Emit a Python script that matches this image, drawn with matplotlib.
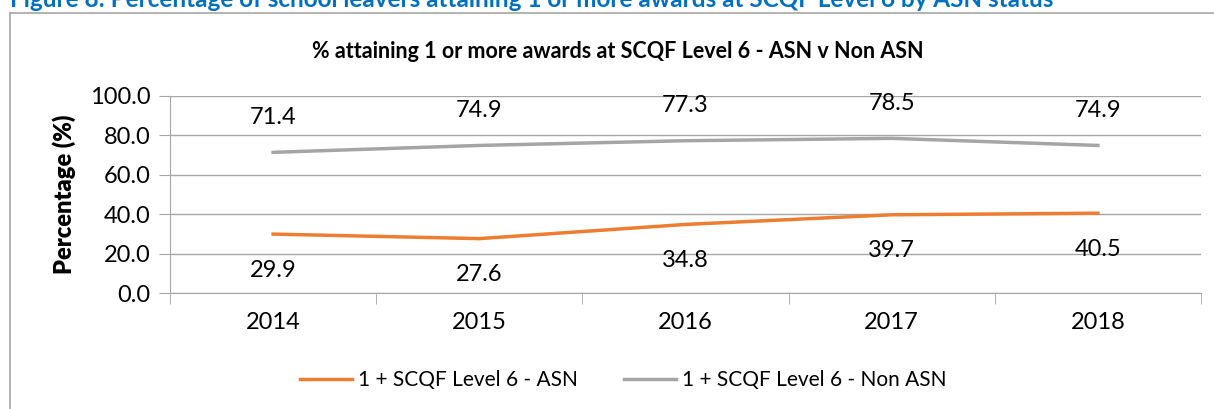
import matplotlib.pyplot as plt
from matplotlib.lines import Line2D

years = ['2014', '2015', '2016', '2017', '2018']
asn = [29.9, 27.6, 34.8, 39.7, 40.5]
non_asn = [71.4, 74.9, 77.3, 78.5, 74.9]

W, H = 1214, 409
plt.rcParams['font.family'] = ['Lato', 'DejaVu Sans']

fig = plt.figure(figsize=(W / 100, H / 100), dpi=100)

# outer chart frame (cut off right and bottom)
grey = '#A6A6A6'
fig.add_artist(Line2D([10 / W, 10 / W], [0, 1 - 13 / H], color=grey, lw=1.2))
fig.add_artist(Line2D([10 / W, 1], [1 - 13 / H, 1 - 13 / H], color=grey, lw=1.2))

# figure caption, partly cut at the top like the reference
fig.text(10 / W, 1 - 7 / H, 'Figure 8: Percentage of school leavers attaining 1 or more awards at SCQF Level 6 by ASN status',
         color='#0070C0', fontsize=17.5, fontweight='bold', va='baseline', ha='left')

ax = fig.add_axes([170 / W, 1 - 293 / H, (1201 - 170) / W, (293 - 96) / H])
x = list(range(len(years)))
ax.plot(x, asn, color='#ED7D31', lw=2.5, label='1 + SCQF Level 6 - ASN')
ax.plot(x, non_asn, color='#A5A5A5', lw=2.5, label='1 + SCQF Level 6 - Non ASN')

for i, v in enumerate(non_asn):
    ax.annotate(f'{v:.1f}', (i, v), xytext=(0, 35), textcoords='offset pixels',
                ha='center', va='center', fontsize=17)
for i, v in enumerate(asn):
    ax.annotate(f'{v:.1f}', (i, v), xytext=(0, -36), textcoords='offset pixels',
                ha='center', va='center', fontsize=17)

ax.set_xlim(-0.5, 4.5)
ax.set_ylim(0, 100)
ax.set_yticks(range(0, 101, 20))
ax.set_yticklabels([f'{t:.1f}' for t in range(0, 101, 20)], fontsize=17)
ax.set_xticks(x)
ax.set_xticklabels(years, fontsize=17)
ax.set_xticks([i - 0.5 for i in range(len(years) + 1)], minor=True)
ax.tick_params(axis='x', which='major', length=0, pad=14)
ax.tick_params(axis='x', which='minor', length=8, color=grey, direction='out')
ax.tick_params(axis='y', length=8, color=grey, pad=6)
ax.grid(axis='y', color=grey, lw=1.0)
ax.set_axisbelow(True)
for s in ['top', 'right']:
    ax.spines[s].set_visible(False)
ax.spines['left'].set_color(grey)
ax.spines['bottom'].set_color(grey)
ax.set_ylabel('Percentage (%)', fontsize=17, fontweight='heavy', labelpad=10)

fig.text(618 / W, 1 - 52 / H, '% attaining 1 or more awards at SCQF Level 6 - ASN v Non ASN',
         ha='center', va='center', fontsize=15.5, fontweight='bold')

fig.legend(loc='center', bbox_to_anchor=(623 / W, 1 - 380 / H), ncol=2, frameon=False,
           fontsize=15, handlelength=2.5, handletextpad=0.3, columnspacing=2.2)

fig.savefig('out.png', dpi=100)
